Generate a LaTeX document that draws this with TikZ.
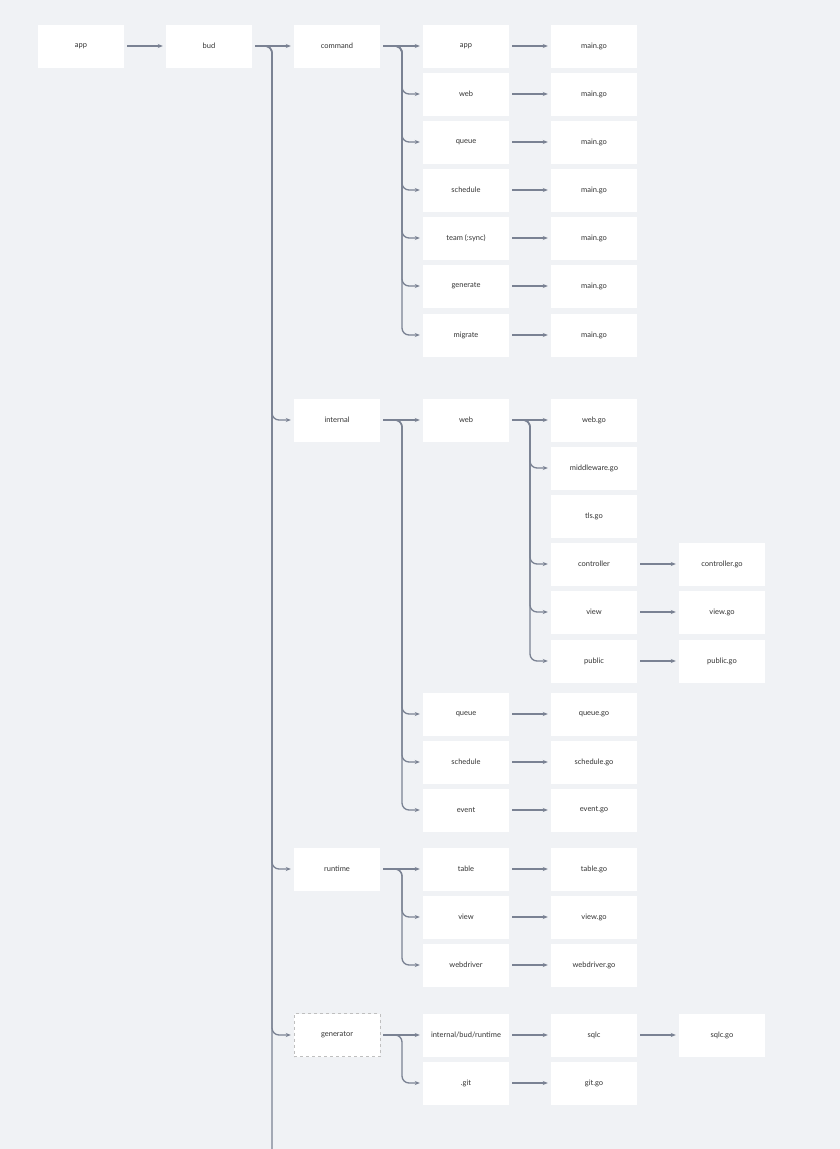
\documentclass[tikz,border=0pt]{standalone}
\usepackage{fontspec}
\setmainfont{Lato}
\usetikzlibrary{arrows.meta}
\begin{document}
\begin{tikzpicture}[x=1pt,y=-1pt,
  box/.style={fill=white,minimum width=86pt,minimum height=43pt,inner sep=0pt,font=\fontsize{7.5}{9}\selectfont,text=black!80},
  dbox/.style={box,draw=black!25,dashed},
  arr/.style={draw=lnc,line width=1.3pt,-{Stealth[length=5pt,width=4pt]},rounded corners=7pt,shorten >=3pt}]
\definecolor{lnc}{HTML}{7A8293}
\fill[fill={rgb,255:red,240;green,242;blue,245}] (0,0) rectangle (840,1149);
\useasboundingbox (0,0) rectangle (840,1149);
\newcommand\bx[4][box]{\node[#1] (#2) at #3 {#4};}
\newcommand\br[3]{\draw[arr] ([xshift=3pt]#1.east) -- (#2,0 |- #1.east) |- (#3.west);}
\newcommand\st[2]{\draw[arr] ([xshift=3pt]#1.east) -- (#2.west);}
\bx{app}{(81,46)}{app}
\bx{bud}{(209,46)}{bud}
\bx{command}{(337,46)}{command}
\bx{internal}{(337,420)}{internal}
\bx{runtime}{(337,869)}{runtime}
\bx[dbox]{generator}{(337,1035)}{generator}
% command children
\foreach \n/\t/\y in {capp/app/46,cweb/web/94,cqueue/queue/142,csched/schedule/190,cteam/team (:sync)/238,cgen/generate/286,cmig/migrate/335}{
  \node[box] (\n) at (466,\y) {\t};
  \node[box] (\n m) at (594,\y) {main.go};
  \st{\n}{\n m}
}
\st{command}{capp}
\foreach \n in {cweb,cqueue,csched,cteam,cgen,cmig}{\br{command}{402}{\n}}
% internal children
\bx{iweb}{(466,420)}{web}
\foreach \n/\t/\g/\y in {iqueue/queue/queue.go/714,isched/schedule/schedule.go/762,ievent/event/event.go/810}{
  \node[box] (\n) at (466,\y) {\t};
  \node[box] (\n g) at (594,\y) {\g};
  \st{\n}{\n g}
}
\st{internal}{iweb}
\foreach \n in {iqueue,isched,ievent}{\br{internal}{402}{\n}}
\bx{webgo}{(594,420)}{web.go}
\bx{mid}{(594,468)}{middleware.go}
\bx{tls}{(594,516)}{tls.go}
\bx{ctrl}{(594,564)}{controller}
\bx{view}{(594,612)}{view}
\bx{public}{(594,661)}{public}
\bx{ctrlg}{(722,564)}{controller.go}
\bx{viewg}{(722,612)}{view.go}
\bx{publicg}{(722,661)}{public.go}
\st{iweb}{webgo}
\foreach \n in {mid,ctrl,view,public}{\br{iweb}{530}{\n}}
\st{ctrl}{ctrlg}
\st{view}{viewg}
\st{public}{publicg}
% runtime
\foreach \n/\t/\g/\y in {rtable/table/table.go/869,rview/view/view.go/917,rwd/webdriver/webdriver.go/965}{
  \node[box] (\n) at (466,\y) {\t};
  \node[box] (\n g) at (594,\y) {\g};
  \st{\n}{\n g}
}
\st{runtime}{rtable}
\br{runtime}{402}{rview}
\br{runtime}{402}{rwd}
% generator
\bx{gibr}{(466,1035)}{internal/bud/runtime}
\bx{ggit}{(466,1083)}{.git}
\bx{sqlc}{(594,1035)}{sqlc}
\bx{gitgo}{(594,1083)}{git.go}
\bx{sqlcgo}{(722,1035)}{sqlc.go}
\st{generator}{gibr}
\br{generator}{402}{ggit}
\st{gibr}{sqlc}
\st{ggit}{gitgo}
\st{sqlc}{sqlcgo}
% trunk
\st{app}{bud}
\st{bud}{command}
\coordinate (tend) at (272,1149);
\draw[draw=lnc,line width=1.3pt,rounded corners=7pt] ([xshift=3pt]bud.east) -- (272,46) -- (tend);
\foreach \n in {internal,runtime,generator}{\br{bud}{272}{\n}}
\end{tikzpicture}
\end{document}
